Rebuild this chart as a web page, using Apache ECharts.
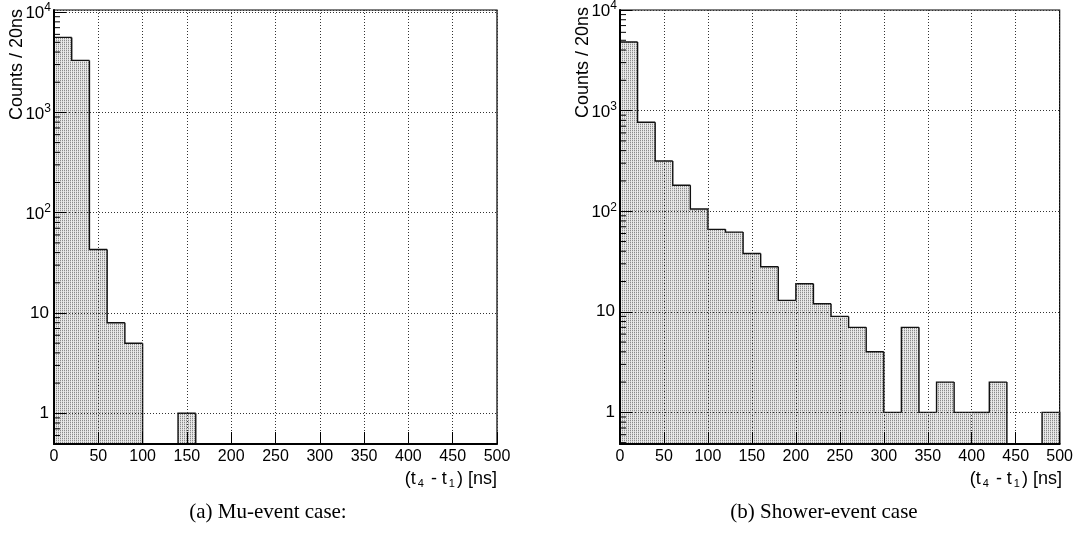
<!DOCTYPE html>
<html><head><meta charset="utf-8">
<script src="https://cdn.jsdelivr.net/npm/echarts@6/dist/echarts.min.js"></script>
<style>html,body{margin:0;padding:0;background:#fff}#c{width:1076px;height:537px}</style>
</head><body><div id="c"></div>
<script>
// bin edges in ns (20 ns bins)
const binEdges = [0,20,40,60,80,100,120,140,160,180,200,220,240,260,280,300,320,340,360,380,400,420,440,460,480,500];
// (a) Mu-event case counts per bin
const muCounts = [5600,3300,43,8,5,0,0,1,0,0,0,0,0,0,0,0,0,0,0,0,0,0,0,0,0];
// (b) Shower-event case counts per bin
const showerCounts = [4800,767,316,181,105,66,62,38,28,13,19,12,9,7,4,1,7,1,2,1,1,2,0,0,1];
// x tick labels
const xTickLabels = [0,50,100,150,200,250,300,350,400,450,500];
// log minor tick values
const yMinorTicks = [0.5,0.6,0.7,0.8,0.9,2,3,4,5,6,7,8,9,20,30,40,50,60,70,80,90,200,300,400,500,600,700,800,900,2000,3000,4000,5000,6000,7000,8000,9000];
const yTitle = 'Counts / 20ns';
const xTitle = '(t{s|4} - t{s|1}) [ns]';
const captions = ['(a) Mu-event case:', '(b) Shower-event case'];

const pc = document.createElement('canvas'); pc.width = 2; pc.height = 2;
const g = pc.getContext('2d');
g.fillStyle = '#e9e9e9'; g.fillRect(0,0,2,2);
g.fillStyle = '#8a8a8a'; g.fillRect(0,0,1,1);
g.fillStyle = '#cfcfcf'; g.fillRect(0,1,1,1);
const pattern = {image: pc, repeat: 'repeat'};

const grids = [
  {left: 54, top: 10, width: 443, height: 434},
  {left: 620, top: 9, width: 442, height: 435}
];
const yRanges = [[0.494, 10500], [0.485, 10000]];

function histItem(counts) {
  return function (params, api) {
    const i = params.dataIndex;
    const cs = params.coordSys;
    const bottom = cs.y + cs.height;
    const x0 = api.value(0), x1 = api.value(1), c = counts[i];
    const px0 = api.coord([x0, 1])[0], px1 = api.coord([x1, 1])[0];
    const yc = c > 0 ? api.coord([x0, c])[1] : bottom;
    const prev = i > 0 ? counts[i - 1] : 0;
    const yp = prev > 0 ? api.coord([x0, prev])[1] : bottom;
    const pts = [[px0, yp], [px0, yc], [px1, yc]];
    if (i === counts.length - 1) pts.push([px1, bottom]);
    const children = [];
    if (c > 0) children.push({type: 'rect', z2: 0, shape: {x: px0, y: yc, width: px1 - px0, height: bottom - yc}, style: {fill: pattern}});
    children.push({type: 'polyline', z2: 10, shape: {points: pts}, style: {stroke: '#111', lineWidth: 1.4, fill: null}});
    return {type: 'group', children};
  };
}
function minorItem(params, api) {
  const cs = params.coordSys;
  const y = api.coord([0, api.value(1)])[1];
  if (y < cs.y || y > cs.y + cs.height) return null;
  return {type: 'line', shape: {x1: cs.x, y1: y, x2: cs.x + 6, y2: y}, style: {stroke: '#000', lineWidth: 1}};
}
function yFmt(v) {
  const e = Math.round(Math.log10(v));
  if (Math.abs(v - Math.pow(10, e)) > 1e-6 * Math.pow(10, e)) return '';
  if (e >= 2) return '{b|10}{s|' + e + '}';
  if (e === 1) return '{p|10}';
  if (e === 0) return '{p|1}';
  return '';
}

const series = [];
[muCounts, showerCounts].forEach((counts, k) => {
  series.push({
    type: 'custom', xAxisIndex: k, yAxisIndex: k, z: 2,
    renderItem: histItem(counts),
    encode: {x: [0, 1]},
    data: counts.map((c, i) => [binEdges[i], binEdges[i + 1], c])
  });
  series.push({
    type: 'custom', xAxisIndex: k, yAxisIndex: k, z: 4,
    renderItem: minorItem,
    encode: {x: 0, y: 1},
    data: yMinorTicks.map(v => [0, v])
  });
});

const graphic = [];
grids.forEach((gr, k) => {
  graphic.push({type: 'text', x: gr.left - 37, y: 9 - k * 2, rotation: Math.PI / 2,
    style: {text: yTitle, font: '18px "Liberation Sans"', fill: '#000', align: 'right', verticalAlign: 'middle'}});
  graphic.push({type: 'text', x: gr.left + gr.width, y: 479,
    style: {text: xTitle, font: '18px "Liberation Sans"', fill: '#000', align: 'right', verticalAlign: 'middle',
      rich: {s: {fontSize: 11, fontFamily: 'Liberation Sans', lineHeight: 6, verticalAlign: 'bottom', padding: [0, 2, 0, 2]}}, lineHeight: 20}});
});
graphic.push({type: 'text', x: 268, y: 512, style: {text: captions[0], font: '21px "Liberation Serif"', fill: '#000', align: 'center', verticalAlign: 'middle'}});
graphic.push({type: 'text', x: 824, y: 512, style: {text: captions[1], font: '21px "Liberation Serif"', fill: '#000', align: 'center', verticalAlign: 'middle'}});

const chart = echarts.init(document.getElementById('c'), null, {renderer: 'canvas'});
chart.setOption({
  animation: false,
  backgroundColor: '#fff',
  grid: grids.map(gr => Object.assign({show: true, borderColor: '#000', borderWidth: 1.2, backgroundColor: 'transparent', containLabel: false}, gr)),
  xAxis: grids.map((gr, k) => ({
    gridIndex: k, type: 'value', min: xTickLabels[0], max: xTickLabels[xTickLabels.length - 1], interval: 50, z: 3,
    axisLine: {show: true, onZero: false, lineStyle: {color: '#000', width: 2}},
    axisTick: {show: true, inside: true, length: 12, lineStyle: {color: '#000', width: 1}},
    axisLabel: {fontFamily: 'Liberation Sans', fontSize: 16, color: '#000', margin: 5, showMinLabel: true, showMaxLabel: true},
    splitLine: {show: true, lineStyle: {color: '#333', type: [1, 2], width: 1}}
  })),
  yAxis: grids.map((gr, k) => ({
    gridIndex: k, type: 'log', logBase: 10, min: yRanges[k][0], max: yRanges[k][1], z: 3,
    axisLine: {show: true, lineStyle: {color: '#000', width: 2}},
    axisTick: {show: true, inside: true, length: 12, lineStyle: {color: '#000', width: 1}},
    axisLabel: {color: '#000', margin: 3, formatter: yFmt, showMinLabel: false, showMaxLabel: k === 1,
      rich: {
        b: {fontFamily: 'Liberation Sans', fontSize: 17, lineHeight: 14, verticalAlign: 'bottom'},
        s: {fontFamily: 'Liberation Sans', fontSize: 12, lineHeight: 20, verticalAlign: 'top'},
        p: {fontFamily: 'Liberation Sans', fontSize: 17, lineHeight: 17, padding: [0, 2, 0, 0]}
      }},
    splitLine: {show: true, lineStyle: {color: '#333', type: [1, 2], width: 1}}
  })),
  series: series,
  graphic: graphic
});
</script></body></html>
